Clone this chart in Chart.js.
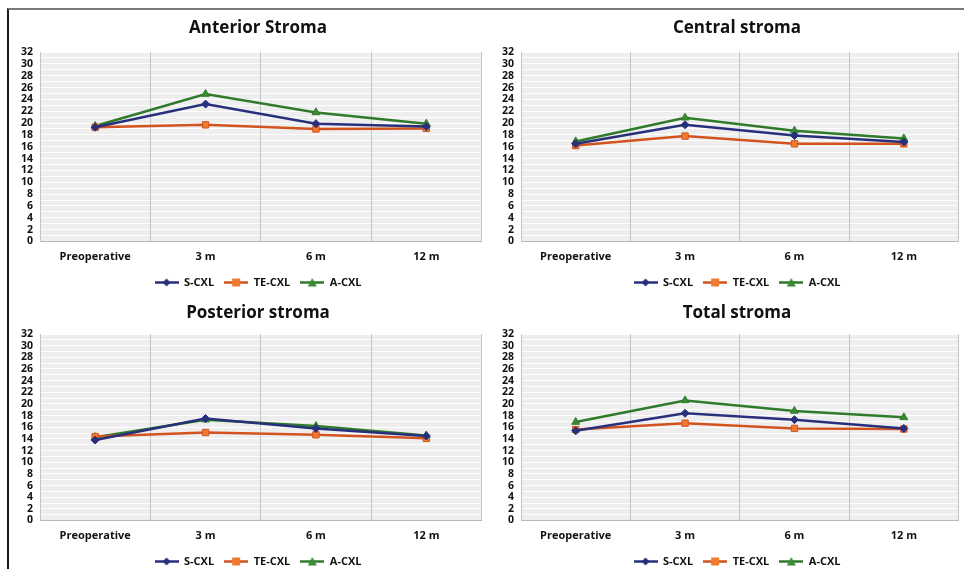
<!DOCTYPE html>
<html>
<head>
<meta charset="utf-8">
<script src="https://cdn.jsdelivr.net/npm/chart.js@4.4.0/dist/chart.umd.min.js"></script>
<style>
    body { margin: 0; background: #fff; width: 964px; height: 569px; overflow: hidden; position: relative; }
    #moldura { position: absolute; left: 7px; top: 8px; width: 970px; height: 600px; border-top: 2px solid #7a7a7a; border-left: 2px solid #1a1a1a; }
    canvas { position: absolute; }
</style>
</head>
<body>
<div id="moldura"></div>
<canvas id="grafAnterior" width="478" height="288" style="left:9px;top:10px"></canvas>
<canvas id="grafCentral" width="474" height="288" style="left:490px;top:10px"></canvas>
<canvas id="grafPosterior" width="478" height="287" style="left:9px;top:290px"></canvas>
<canvas id="grafTotal" width="474" height="287" style="left:490px;top:290px"></canvas>
<script>
// Dados
const periodos = ['Preoperative', '3 m', '6 m', '12 m']
const grupos = ['S-CXL', 'TE-CXL', 'A-CXL']

const anteriorS = [19.3, 23.2, 19.9, 19.4]
const anteriorTE = [19.3, 19.7, 19.0, 19.1]
const anteriorA = [19.5, 24.9, 21.8, 19.9]

const centralS = [16.5, 19.7, 17.9, 16.8]
const centralTE = [16.2, 17.8, 16.5, 16.5]
const centralA = [16.9, 20.9, 18.7, 17.4]

const posteriorS = [13.8, 17.5, 15.8, 14.5]
const posteriorTE = [14.4, 15.1, 14.7, 14.1]
const posteriorA = [14.3, 17.3, 16.2, 14.6]

const totalS = [15.4, 18.4, 17.3, 15.8]
const totalTE = [15.6, 16.7, 15.8, 15.7]
const totalA = [16.9, 20.6, 18.8, 17.7]

// Cores das séries
const corS = '#28307c'
const corTE = '#d3531f'
const corTEfundo = '#ee7b2f'
const corA = '#2f7a2b'
const corAfundo = '#3b8a34'

const fonte = "'Open Sans', sans-serif"

// Pequeno desenho de linha + marcador para a legenda
function criarMarcador(cor, corLinha, estilo) {
    const c = document.createElement('canvas')
    c.width = 24
    c.height = 11
    const g = c.getContext('2d')
    g.strokeStyle = corLinha
    g.lineWidth = 2.5
    g.beginPath()
    g.moveTo(0, 5.5)
    g.lineTo(24, 5.5)
    g.stroke()
    g.fillStyle = cor
    g.beginPath()
    if (estilo == 'losango') {
        g.moveTo(12, 1.5); g.lineTo(16, 5.5); g.lineTo(12, 9.5); g.lineTo(8, 5.5)
    } else if (estilo == 'quadrado') {
        g.rect(8, 1.5, 8, 8)
    } else {
        g.moveTo(12, 1); g.lineTo(16.5, 9.5); g.lineTo(7.5, 9.5)
    }
    g.closePath()
    g.fill()
    return c
}

const marcadores = [
    criarMarcador(corS, corS, 'losango'),
    criarMarcador(corTEfundo, corTE, 'quadrado'),
    criarMarcador(corAfundo, corA, 'triangulo')
]

// Fundo cinza da área do gráfico
const fundoPlot = {
    id: 'fundoPlot',
    beforeDraw(chart) {
        const a = chart.chartArea
        chart.ctx.save()
        chart.ctx.fillStyle = '#eeeeee'
        chart.ctx.fillRect(a.left, a.top, a.right - a.left, a.bottom - a.top)
        chart.ctx.restore()
    }
}

// Título e legenda ficam um pouco à direita do centro do canvas
const deslocarTitulo = {
    id: 'deslocarTitulo',
    afterLayout(chart, args, opcoes) {
        [chart.titleBlock, chart.legend].forEach(b => {
            if (b) { b.left += opcoes.dx; b.right += opcoes.dx }
        })
    }
}

function criarGrafico(id, titulo, valS, valTE, valA, pos) {
    const ctx = document.getElementById(id)
    new Chart(ctx, {
        type: 'line',
        data: {
            labels: periodos,
            datasets: [{
                label: grupos[0],
                data: valS,
                borderColor: corS,
                backgroundColor: corS,
                pointStyle: 'rectRot',
                pointRadius: 4,
                borderWidth: 2.5,
                pointBorderWidth: 1
            }, {
                label: grupos[1],
                data: valTE,
                borderColor: corTE,
                backgroundColor: corTEfundo,
                pointStyle: 'rect',
                pointRadius: 4.5,
                borderWidth: 2.5,
                pointBorderWidth: 1
            }, {
                label: grupos[2],
                data: valA,
                borderColor: corA,
                backgroundColor: corAfundo,
                pointStyle: 'triangle',
                pointRadius: 4.5,
                borderWidth: 2.5,
                pointBorderWidth: 1
            }]
        },
        options: {
            responsive: false,
            animation: false,
            layout: { padding: { left: 0, right: pos.dir, top: 0, bottom: 0 } },
            plugins: {
                deslocarTitulo: { dx: pos.dx },
                title: {
                    display: true,
                    text: titulo,
                    color: '#111',
                    font: { family: fonte, size: 17, weight: 'bold' },
                    padding: { top: pos.tituloTopo, bottom: pos.tituloBase }
                },
                legend: {
                    position: 'bottom',
                    labels: {
                        usePointStyle: true,
                        pointStyleWidth: 24,
                        padding: 10,
                        color: '#111',
                        font: { family: fonte, size: 11, weight: 'bold' },
                        generateLabels: function (chart) {
                            const itens = Chart.defaults.plugins.legend.labels.generateLabels(chart)
                            itens.forEach((item, i) => { item.pointStyle = marcadores[i] })
                            return itens
                        }
                    }
                },
                tooltip: { enabled: false }
            },
            scales: {
                x: {
                    offset: true,
                    grid: { offset: true, color: '#c6c6c6', drawTicks: false, z: -1 },
                    border: { display: true, color: '#b8b8b8' },
                    afterFit: function (scale) { scale.height = 25.5 },
                    ticks: { padding: 9, color: '#111', font: { family: fonte, size: 11, weight: 'bold' } }
                },
                y: {
                    min: 0,
                    max: 32,
                    grid: { color: '#ffffff', drawTicks: false, z: -2 },
                    border: { display: true, color: '#c6c6c6' },
                    afterFit: function (scale) { scale.width = 31 },
                    ticks: {
                        stepSize: 1,
                        autoSkip: false,
                        padding: 7,
                        color: '#111',
                        font: { family: fonte, size: 10.5, weight: 'bold' },
                        callback: function (valor) { return valor % 2 == 0 ? valor : '' }
                    }
                }
            }
        },
        plugins: [fundoPlot, deslocarTitulo]
    })
}

criarGrafico('grafAnterior', 'Anterior Stroma', anteriorS, anteriorTE, anteriorA,
    { dir: 2, dx: 11, tituloTopo: 8, tituloBase: 13.6 })
criarGrafico('grafCentral', 'Central stroma', centralS, centralTE, centralA,
    { dir: 3, dx: 11.5, tituloTopo: 8, tituloBase: 13.6 })
criarGrafico('grafPosterior', 'Posterior stroma', posteriorS, posteriorTE, posteriorA,
    { dir: 2, dx: 11, tituloTopo: 13, tituloBase: 10.6 })
criarGrafico('grafTotal', 'Total stroma', totalS, totalTE, totalA,
    { dir: 3, dx: 11.5, tituloTopo: 13, tituloBase: 10.6 })
</script>
</body>
</html>
